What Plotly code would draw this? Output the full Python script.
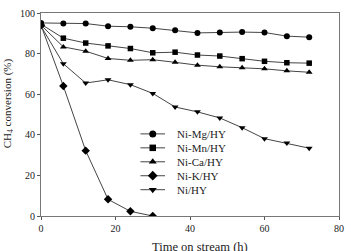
import plotly.graph_objects as go

time_h = [0, 6, 12, 18, 24, 30, 36, 42, 48, 54, 60, 66, 72]
ni_mg = [95.1, 94.8, 94.8, 93.5, 93.2, 92.5, 91.5, 90.2, 90.4, 90.6, 90.4, 88.6, 88.1]
ni_mn = [94.5, 87.6, 85.2, 83.8, 82.5, 80.4, 80.7, 79.3, 78.8, 77.5, 76.2, 75.5, 75.3]
ni_ca = [94.0, 83.3, 81.2, 77.6, 76.7, 77.0, 75.7, 74.3, 73.5, 73.0, 72.5, 71.5, 70.8]
time_k = [0, 6, 12, 18, 24, 30]
ni_k = [94.0, 64.0, 32.2, 8.2, 2.3, 0.0]
ni_hy = [93.5, 75.0, 65.5, 67.1, 64.7, 60.4, 53.7, 51.3, 48.3, 43.5, 38.1, 35.9, 33.4]

series = [
    ("Ni-Mg/HY", time_h, ni_mg, "circle", 6),
    ("Ni-Mn/HY", time_h, ni_mn, "square", 5.5),
    ("Ni-Ca/HY", time_h, ni_ca, "triangle-up", 6),
    ("Ni-K/HY", time_k, ni_k, "diamond", 6.5),
    ("Ni/HY", time_h, ni_hy, "triangle-down", 6),
]

W, H = 351, 251
L, R, T, B = 40.5, 7.3, 12, 35.3
pw, ph = W - L - R, H - T - B


def px_x(p):
    return (p - L) / pw


def px_y(p):
    return (H - B - p) / ph


LINE_COLOR = "#444444"
TEXT_COLOR = "#222222"
font = "Liberation Serif, Times New Roman, serif"

fig = go.Figure()
for name, xs, ys, sym, sz in series:
    fig.add_trace(go.Scatter(
        x=xs, y=ys, name=name, mode="lines+markers",
        line=dict(color=LINE_COLOR, width=1),
        marker=dict(symbol=sym, size=sz, color="black"),
        showlegend=False,
    ))

# hand-built legend (compact row spacing like the reference)
leg_top, leg_step = 133.3, 14.0
leg_x0, leg_x1, leg_text = 141.7, 166.7, 176.5
shapes, annotations = [], []
for i, (name, xs, ys, sym, sz) in enumerate(series):
    yc = px_y(leg_top + i * leg_step)
    shapes.append(dict(type="line", xref="paper", yref="paper", x0=px_x(leg_x0), x1=px_x(leg_x1),
                       y0=yc, y1=yc, layer="below", line=dict(color=LINE_COLOR, width=1)))
    fig.add_trace(go.Scatter(x=[px_x((leg_x0 + leg_x1) / 2)], y=[yc], mode="markers",
                             xaxis="x2", yaxis="y2",
                             marker=dict(symbol=sym, size=sz + 1, color="black"),
                             showlegend=False, hoverinfo="skip"))
    annotations.append(dict(text=name, xref="paper", yref="paper", x=px_x(leg_text), y=yc,
                            xanchor="left", yanchor="middle", showarrow=False,
                            font=dict(size=11, family=font, color=TEXT_COLOR)))

annotations += [
    dict(text="Time on stream (h)", xref="paper", yref="paper", x=px_x(202), y=px_y(246.5),
         xanchor="center", yanchor="middle", showarrow=False, font=dict(size=12.5, family=font, color=TEXT_COLOR)),
    dict(text="CH<sub>4</sub> conversion (%)", xref="paper", yref="paper", x=px_x(7), y=px_y(102.5),
         xanchor="center", yanchor="middle", textangle=-90, showarrow=False,
         font=dict(size=11, family=font, color=TEXT_COLOR)),
]

fig.update_layout(
    width=W, height=H,
    margin=dict(l=L, r=R, t=T, b=B),
    paper_bgcolor="white", plot_bgcolor="white",
    font=dict(family=font, size=10, color=TEXT_COLOR),
    showlegend=False,
    xaxis=dict(range=[0, 80], tickvals=[0, 20, 40, 60, 80], showgrid=False, zeroline=False,
               showline=True, linecolor="#777777", linewidth=1, mirror=True,
               ticks="outside", ticklen=3, tickcolor="#555555", tickfont=dict(size=10)),
    yaxis=dict(range=[0, 100], tickvals=[0, 20, 40, 60, 80, 100], showgrid=False, zeroline=False,
               showline=True, linecolor="#777777", linewidth=1, mirror=True,
               ticks="outside", ticklen=3, tickcolor="#555555", tickfont=dict(size=10)),
    xaxis2=dict(range=[0, 1], overlaying="x", visible=False, fixedrange=True),
    yaxis2=dict(range=[0, 1], overlaying="y", visible=False, fixedrange=True),
    shapes=shapes,
    annotations=annotations,
)

fig.write_html("out.html")
